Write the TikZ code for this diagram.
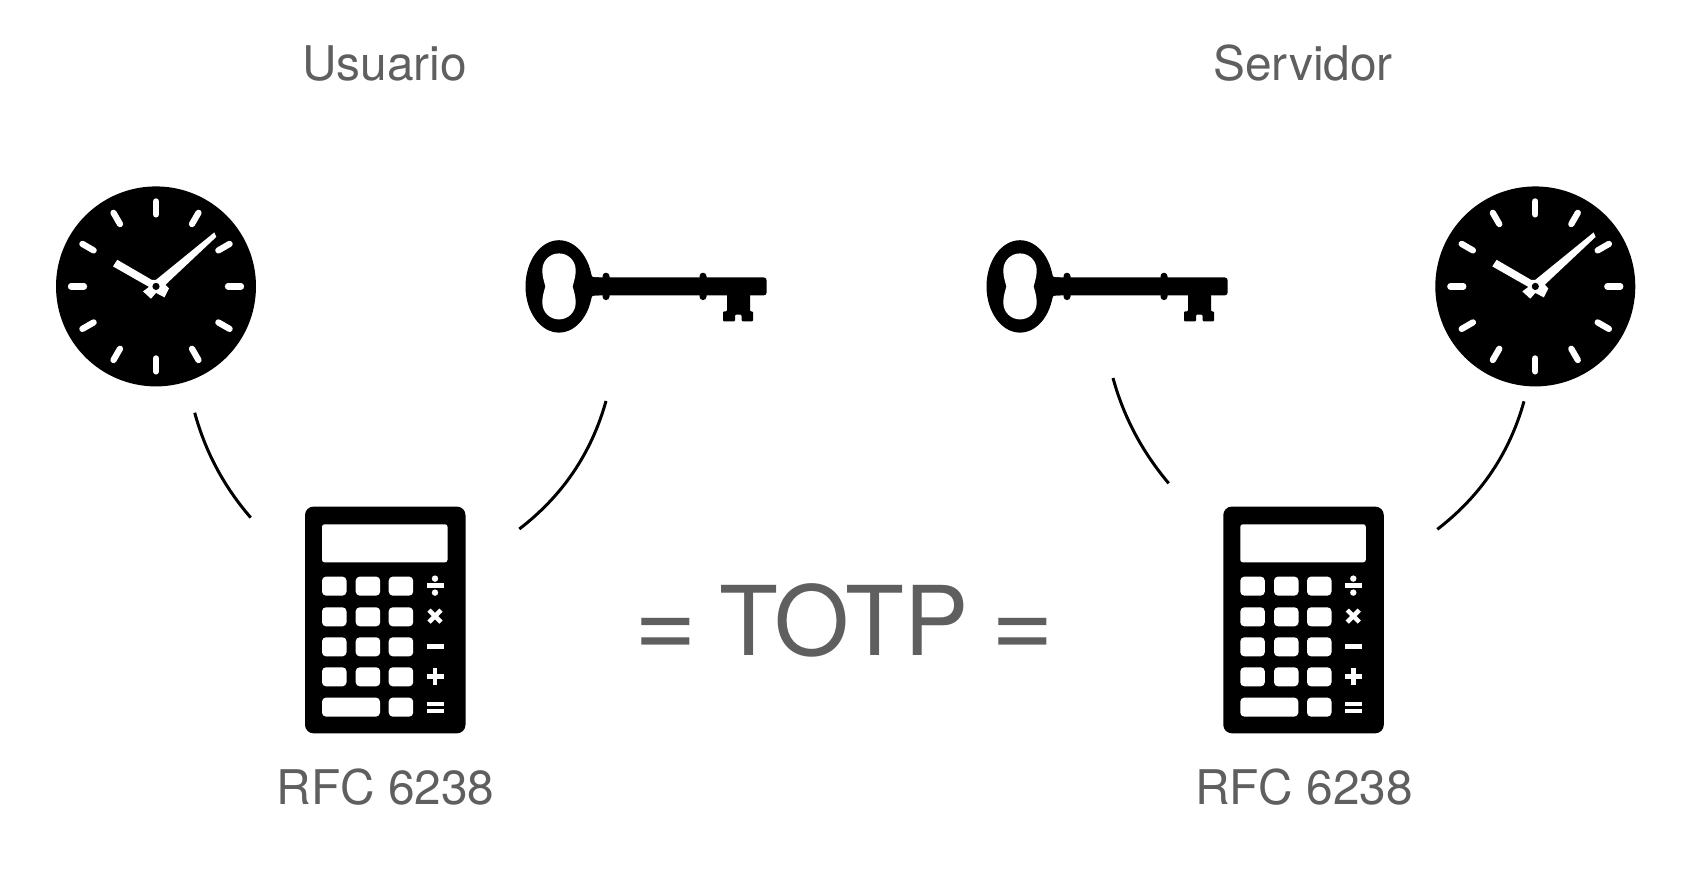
\documentclass[tikz,border=0pt]{standalone}
\usepackage{fontspec}
\setmainfont{TeX Gyre Heros}
\usetikzlibrary{positioning}
\definecolor{textColor}{HTML}{5F5F5F}
\definecolor{iconColor}{HTML}{000000}
\newcommand{\bigEq}{\raisebox{-1.6pt}{\fontsize{61}{60}\selectfont =}}

\begin{document}
\begin{tikzpicture}[
    x=0.02cm,
    y=-0.02cm,
    % Text Styles
    sideLabel/.style={
        font=\fontsize{27.2}{32}\selectfont,
        text=textColor,
        anchor=base,
        inner sep=0pt
    },
    totpLabel/.style={
        font=\fontsize{54.8}{60}\selectfont,
        text=textColor,
        anchor=base,
        inner sep=0pt
    },
    % Line Styles
    arcLine/.style={
        draw=iconColor,
        line width=0.06cm
    },
    tickLine/.style={
        draw=white,
        line width=0.125cm,
        line cap=round
    },
    signLine/.style={
        draw=white,
        line width=0.09cm
    },
    % Icons
    clockIcon/.pic={
        \fill[iconColor] (0,0) circle [radius=100];
        \foreach \a in {0,30,...,330}
            \draw[tickLine] ({cos(\a)*72},{sin(\a)*72}) -- ({cos(\a)*85},{sin(\a)*85});
        \fill[white] (58.3,-54) -- (60.3,-49.5) -- (9.5,-1.7) -- (13,2) -- (8.5,11) -- (0,6.5)
            -- (-5,12.3) -- (-13,5) -- (-7,0.5) -- (-43,-20) -- (-38.7,-26.6) -- (-4.3,-6.6)
            -- (0,-6.6) -- cycle;
        \fill[iconColor] (0,0) circle [radius=3.6];
    },
    keyIcon/.pic={
        \fill[iconColor] (0,0) ellipse [x radius=33.5, y radius=46.2];
        \fill[iconColor] (32,-12.5) .. controls (33,-9) .. (40,-9) -- (40,9)
            .. controls (33,9) .. (32,12.5) -- cycle;
        \fill[iconColor, rounded corners=0.06cm] (30,-9) rectangle (207.7,9);
        \fill[iconColor, rounded corners=0.07cm] (43.5,-13.7) rectangle (50.5,13.7);
        \fill[iconColor, rounded corners=0.07cm] (140.5,-13.7) rectangle (147.5,13.7);
        % bit of the key
        \fill[iconColor, rounded corners=0.02cm] (168,5) -- (191,5) -- (191,25) -- (194,25) -- (194,35)
            -- (182.7,35) -- (182.7,28.3) -- (176,28.3) -- (176,35) -- (164,35)
            -- (164,25) -- (168,25) -- cycle;
        \fill[white] (13.6,0) .. controls (15,-5) and (16.7,-10) .. (16.7,-16)
            .. controls (16.7,-26) and (9,-33) .. (0,-33)
            .. controls (-9,-33) and (-16.7,-26) .. (-16.7,-16)
            .. controls (-16.7,-10) and (-15,-5) .. (-13.6,0)
            .. controls (-15,5) and (-16.7,10) .. (-16.7,16)
            .. controls (-16.7,26) and (-9,33) .. (0,33)
            .. controls (9,33) and (16.7,26) .. (16.7,16)
            .. controls (16.7,10) and (15,5) .. (13.6,0) -- cycle;
    },
    calcIcon/.pic={
        \fill[iconColor, rounded corners=0.17cm] (0,0) rectangle (160.5,226.7);
        % display
        \fill[white, rounded corners=0.05cm] (17,17.7) rectangle (142.5,55.7);
        % keys
        \foreach \ky in {70,100.7,130.7,160.7}
            \foreach \kx in {17,50.7,83.7}
                \fill[white, rounded corners=0.08cm] (\kx,\ky) rectangle ++(24.5,19);
        \fill[white, rounded corners=0.08cm] (17,191) rectangle ++(58,19);
        \fill[white, rounded corners=0.08cm] (83.7,191) rectangle ++(24.5,19);
        % operators
        \draw[signLine] (121.5,79) -- (138.5,79);
        \fill[white] (130,72) circle [radius=3.2];
        \fill[white] (130,86) circle [radius=3.2];
        \draw[signLine] (124,103.5) -- (136,115.5);
        \draw[signLine] (136,103.5) -- (124,115.5);
        \draw[signLine] (121.5,139.7) -- (138.5,139.7);
        \draw[signLine] (121.5,170) -- (138.5,170);
        \draw[signLine] (130,161.5) -- (130,178.5);
        \fill[white] (121.5,195.5) rectangle (138.5,199.2);
        \fill[white] (121.5,202.8) rectangle (138.5,206.5);
    }
]

    % --- PAGE ---
    \useasboundingbox (0,0) rectangle (1698,894);

    % --- USER SIDE ---
    \node[sideLabel] (userTitle) at (384.5,80) {Usuario};
    \pic (userClock) at (156,286.4) {clockIcon};
    \pic (userKey) at (559,286.4) {keyIcon};
    \pic (userCalc) at (305,506.6) {calcIcon};
    \node[sideLabel] (userRfc) at (385.5,804) {RFC 6238};

    % --- SERVER SIDE ---
    \node[sideLabel] (serverTitle) at (1303,80) {Servidor};
    \pic (serverClock) at (1535.3,286.4) {clockIcon};
    \pic (serverKey) at (1020,286.4) {keyIcon};
    \pic (serverCalc) at (1223.3,506.6) {calcIcon};
    \node[sideLabel] (serverRfc) at (1304,804) {RFC 6238};

    % --- RESULT ---
    \node[totpLabel] (totp) at (844,655.5) {\bigEq\kern-2.3pt{} TOTP \kern-2.3pt\bigEq};

    % --- ARC ENDS ---
    \coordinate (userClockEnd) at (194.7,412.7);
    \coordinate (userClockCalc) at (250.7,517.6);
    \coordinate (userKeyEnd) at (606,401);
    \coordinate (userKeyCalc) at (519.3,529);
    \coordinate (serverKeyEnd) at (1113,378);
    \coordinate (serverKeyCalc) at (1168.7,483.3);
    \coordinate (serverClockEnd) at (1524,401.3);
    \coordinate (serverClockCalc) at (1437.3,529.3);

    % --- CONNECTIONS ---
    \draw[arcLine] (userClockEnd) .. controls (205.4,451.9) and (224,486.7) .. (userClockCalc);
    \draw[arcLine] (userKeyEnd) .. controls (591.4,453.3) and (562.5,495.8) .. (userKeyCalc);
    \draw[arcLine] (serverKeyEnd) .. controls (1123.7,417.2) and (1142.3,452) .. (serverKeyCalc);
    \draw[arcLine] (serverClockEnd) .. controls (1509.4,453.6) and (1480.5,496.1) .. (serverClockCalc);

\end{tikzpicture}
\end{document}
